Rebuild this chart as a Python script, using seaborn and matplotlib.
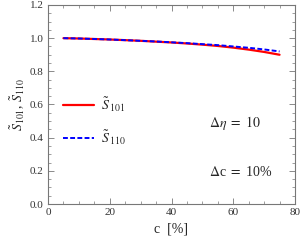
import matplotlib
matplotlib.use("Agg")
import matplotlib.pyplot as plt
import seaborn as sns
import pandas as pd
from matplotlib.ticker import MultipleLocator

c_vals = [5, 10, 15, 20, 25, 30, 35, 40, 45, 50, 55, 60, 65, 70, 75]
s101 = [1.000, 0.998, 0.995, 0.992, 0.988, 0.984, 0.979, 0.974, 0.968, 0.961, 0.953, 0.943, 0.931, 0.917, 0.900]
s110 = [1.000, 0.998, 0.995, 0.992, 0.988, 0.984, 0.980, 0.975, 0.970, 0.964, 0.958, 0.950, 0.942, 0.932, 0.920]
labels = [r"$\tilde{S}_{\,101}$", r"$\tilde{S}_{\,110}$"]

sns.set_style("ticks")
plt.rcParams["font.family"] = ["Liberation Serif", "DejaVu Serif"]
plt.rcParams["mathtext.fontset"] = "stix"

df = pd.DataFrame({
    "c": c_vals * 2,
    "S": s101 + s110,
    "series": [labels[0]] * len(c_vals) + [labels[1]] * len(c_vals),
})

fig = plt.figure(figsize=(3.02, 2.45), dpi=100)
ax = fig.add_axes([48 / 302, 41 / 245, 247 / 302, 199 / 245])

sns.lineplot(data=df, x="c", y="S", hue="series", style="series",
             palette={labels[0]: "#ff0000", labels[1]: "#0000ff"},
             dashes={labels[0]: "", labels[1]: (2.5, 1.2)},
             ax=ax, legend=False)
lines = ax.get_lines()
lines[0].set_linewidth(1.6)
lines[1].set_linewidth(1.4)

ax.set_xlim(0, 80)
ax.set_ylim(0, 1.2)
ax.xaxis.set_major_locator(MultipleLocator(20))
ax.xaxis.set_minor_locator(MultipleLocator(5))
ax.yaxis.set_major_locator(MultipleLocator(0.2))
ax.yaxis.set_minor_locator(MultipleLocator(0.05))
ax.set_yticklabels([f"{v:.1f}" for v in ax.get_yticks()])
ax.tick_params(which="both", direction="in", top=True, right=True, labelsize=8, color="#777777", pad=3, labelcolor="#333333")
ax.tick_params(which="major", length=4, width=0.6)
ax.tick_params(which="minor", length=2, width=0.5)
for sp in ax.spines.values():
    sp.set_color("#777777")
    sp.set_linewidth(0.8)

ax.set_xlabel("c  [%]", fontsize=10)
ax.set_ylabel(r"$\tilde{S}_{101}$, $\tilde{S}_{110}$", fontsize=10, labelpad=2)

leg = ax.legend(handles=lines, labels=labels, loc="upper left",
                bbox_to_anchor=(0.0625, 0.547), frameon=False, fontsize=10,
                handlelength=2.2, labelspacing=1.07, handletextpad=0.5,
                borderpad=0, borderaxespad=0)

ax.text(52, 0.49, r"$\Delta\eta\ =\ 10$", fontsize=10, va="center")
ax.text(52, 0.195, r"$\Delta$c $=$ 10%", fontsize=10, va="center")

fig.savefig("out.png", dpi=100)
